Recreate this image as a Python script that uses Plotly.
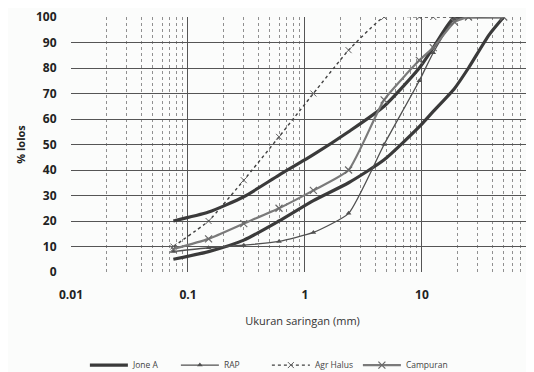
import plotly.graph_objects as go

zone_upper_x = [0.075, 0.15, 0.3, 0.6, 1.18, 2.36, 4.75, 9.5, 12.5, 19, 25, 50]
zone_upper = [20, 23.5, 29.5, 38, 46, 55, 65, 80, 88, 100, 100, 100]

zone_lower_x = [0.075, 0.15, 0.3, 0.6, 1.18, 2.36, 4.75, 9.5, 12.5, 19, 25, 37.5, 50]
zone_lower = [5, 8, 12.5, 20, 28, 35, 44, 57, 63, 72, 80, 93, 100]

rap_x = [0.075, 0.15, 0.3, 0.6, 1.18, 2.36, 4.75, 9.5, 12.5, 19, 25]
rap = [8, 9.5, 10.5, 12, 15.5, 23, 50, 75, 86, 99, 100]

agr_x = [0.075, 0.15, 0.3, 0.6, 1.18, 2.36, 4.75, 9.5, 12.5, 19, 25]
agr = [10, 20, 36, 53, 70, 87, 100, 100, 100, 100, 100]

camp_x = [0.075, 0.15, 0.3, 0.6, 1.18, 2.36, 4.75, 9.5, 12.5, 19, 25, 50]
camp = [9, 13, 19, 25, 32, 40, 67.5, 83, 88, 98, 100, 100]

fig = go.Figure()
zline = dict(color="#3a3a3a", width=3.2, shape="spline", smoothing=0.6)
fig.add_trace(go.Scatter(x=zone_upper_x, y=zone_upper, mode="lines", name="Jone A",
                         line=zline, legendgroup="z"))
fig.add_trace(go.Scatter(x=zone_lower_x, y=zone_lower, mode="lines", name="Jone A",
                         line=zline, legendgroup="z", showlegend=False))
fig.add_trace(go.Scatter(x=rap_x, y=rap, mode="lines+markers", name="RAP",
                         line=dict(color="#505050", width=1.3, shape="spline", smoothing=0.5),
                         marker=dict(symbol="triangle-up", size=5, color="#505050")))
fig.add_trace(go.Scatter(x=agr_x, y=agr, mode="lines+markers", name="Agr Halus",
                         line=dict(color="#404040", width=1.4, dash="dot", shape="spline", smoothing=0.4),
                         marker=dict(symbol="x-thin", size=6, line=dict(color="#606060", width=1))))
fig.add_trace(go.Scatter(x=camp_x, y=camp, mode="lines+markers", name="Campuran",
                         line=dict(color="#7a7a7a", width=2.2, shape="spline", smoothing=0.5),
                         marker=dict(symbol="x-thin", size=7, line=dict(color="#6a6a6a", width=1.2))))

font = "Open Sans"
# page body has an 8px default margin, so the figure is sized to fill the rest of the window
fig.update_layout(
    width=526, height=364,
    margin=dict(l=63, r=0, t=9, b=100, autoexpand=False),
    paper_bgcolor="#fbfcfb", plot_bgcolor="#fbfcfb",
    font=dict(family=font, color="#222222"),
    showlegend=True,
    legend=dict(orientation="h", x=0.03, xanchor="left", y=-0.365, yanchor="middle",
                font=dict(size=8.5, color="#444444"), itemwidth=38,
                entrywidth=38, entrywidthmode="pixels",
                bgcolor="rgba(0,0,0,0)"),
    xaxis=dict(type="log", range=[-2, 1.958], automargin=False,
               tickvals=[0.01, 0.1, 1, 10], ticktext=["0.01", "0.1", "1", "10"],
               tickfont=dict(size=12, color="#222222", family=font, weight="bold"),
               ticks="outside", ticklen=12, tickcolor="rgba(0,0,0,0)",
               showgrid=True, gridcolor="#555555", gridwidth=1.2,
               minor=dict(showgrid=True, dtick="D1", gridcolor="#909090", gridwidth=1, griddash="dot"),
               zeroline=False, showline=False,
               title=dict(text="Ukuran saringan (mm)", font=dict(size=11, color="#333333"), standoff=14)),
    yaxis=dict(range=[0, 100], dtick=10, automargin=False,
               tickfont=dict(size=12, color="#222222", family=font, weight="bold"),
               ticks="outside", ticklen=11, tickcolor="rgba(0,0,0,0)",
               showgrid=True, gridcolor="#555555", gridwidth=1.2,
               zeroline=False, showline=False,
               title=dict(text="% lolos", font=dict(size=11, color="#222222", weight="bold"), standoff=8)),
)

fig.write_html("out.html")
